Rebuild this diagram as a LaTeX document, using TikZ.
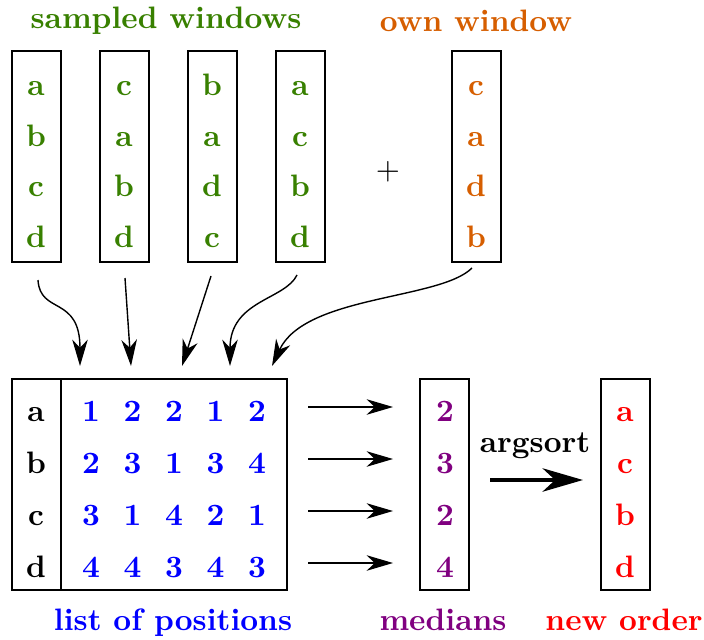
\documentclass[tikz,border=0pt]{standalone}
\usetikzlibrary{arrows.meta}
\definecolor{cgreen}{RGB}{56,128,0}
\definecolor{corange}{RGB}{214,94,0}
\definecolor{cblue}{RGB}{0,0,255}
\definecolor{cpurple}{RGB}{128,0,128}
\definecolor{cred}{RGB}{255,0,0}
\begin{document}
\begin{tikzpicture}[x=0.3226pt,y=-0.3226pt,
  every node/.style={font=\fontsize{10}{12}\selectfont\bfseries, inner sep=0pt},
  colbox/.style={draw, line width=0.45pt, minimum width=15.8pt, minimum height=68.1pt},
  matbox/.style={draw, line width=0.45pt, minimum width=88.7pt, minimum height=68.1pt},
  ent/.style={anchor=base},
  conn/.style={line width=0.45pt, -{Stealth[length=8.5pt,width=5pt,inset=2.6pt]}},
  bigarrow/.style={line width=1.6pt, -{Stealth[length=13pt,width=7.5pt,inset=4pt]}}]
\useasboundingbox (0,0) rectangle (704,639);

% titles
\node[ent, text=cgreen] (tsamp) at (166,29) {sampled windows};
\node[ent, text=corange] (town) at (476,32) {own window};

% sampled windows
\node[colbox] (w1) at (36.5,156.5) {};
\node[colbox] (w2) at (124.5,156.5) {};
\node[colbox] (w3) at (212.5,156.5) {};
\node[colbox] (w4) at (300.5,156.5) {};
\node[colbox] (w5) at (476.5,156.5) {};

\foreach \col/\x/\letters in {1/36/{a,b,c,d},2/124/{c,a,b,d},3/212/{b,a,d,c},4/300/{a,c,b,d}}{
  \foreach \l [count=\i] in \letters {
    \node[ent, text=cgreen] (w\col l\i) at (\x,{96+50.5*(\i-1)}) {\l};
  }
}
\foreach \l [count=\i] in {c,a,d,b}{
  \node[ent, text=corange] (w5l\i) at (476,{96+50.5*(\i-1)}) {\l};
}
\node[ent, font=\fontsize{10}{12}\selectfont] (plus) at (388,180) {+};

% arrow endpoints
\coordinate (s1) at (38,280);  \coordinate (e1) at (80,366);
\coordinate (s2) at (125,278); \coordinate (e2) at (131,366);
\coordinate (s3) at (211,276); \coordinate (e3) at (182,366);
\coordinate (s4) at (297,275); \coordinate (e4) at (230,366);
\coordinate (s5) at (472,268); \coordinate (e5) at (272,366);

\draw[conn] (s1) .. controls (40,315) and (80,295) .. (e1);
\draw[conn] (s2) -- (e2);
\draw[conn] (s3) -- (e3);
\draw[conn] (s4) .. controls (285,300) and (230,300) .. (e4);
\draw[conn] (s5) .. controls (440,300) and (305,295) .. (e5);

% matrix
\node[matbox] (mat) at (149.5,484.5) {};
\coordinate (dtop) at (61,379);
\coordinate (dbot) at (61,590);
\draw[line width=0.45pt] (dtop) -- (dbot);
\foreach \l [count=\i] in {a,b,c,d}{
  \node[ent] (r\i) at (36,{421+52*(\i-1)}) {\l};
}
\foreach \row [count=\i] in {{1,2,2,1,2},{2,3,1,3,4},{3,1,4,2,1},{4,4,3,4,3}}{
  \foreach \v [count=\j] in \row {
    \node[ent, text=cblue] (m\i\j) at ({91+41.5*(\j-1)},{421+52*(\i-1)}) {\v};
  }
}
\node[ent, text=cblue] (lpos) at (173,630) {list of positions};

% medians
\node[colbox] (med) at (444.5,484.5) {};
\foreach \v [count=\i] in {2,3,2,4}{
  \node[ent, text=cpurple] (md\i) at (445,{421+52*(\i-1)}) {\v};
  \coordinate (ha\i) at (308,{407+52*(\i-1)});
  \coordinate (hb\i) at (393,{407+52*(\i-1)});
  \draw[conn] (ha\i) -- (hb\i);
}
\node[ent, text=cpurple] (lmed) at (443,630) {medians};

% argsort
\coordinate (as) at (490,480);
\coordinate (ae) at (583,480);
\draw[bigarrow] (as) -- (ae);
\node[ent] (targ) at (535,452) {argsort};

% new order
\node[colbox] (nord) at (625.5,484.5) {};
\foreach \l [count=\i] in {a,c,b,d}{
  \node[ent, text=cred] (n\i) at (625,{421+52*(\i-1)}) {\l};
}
\node[ent, text=cred] (lnew) at (624,630) {new order};
\end{tikzpicture}
\end{document}
